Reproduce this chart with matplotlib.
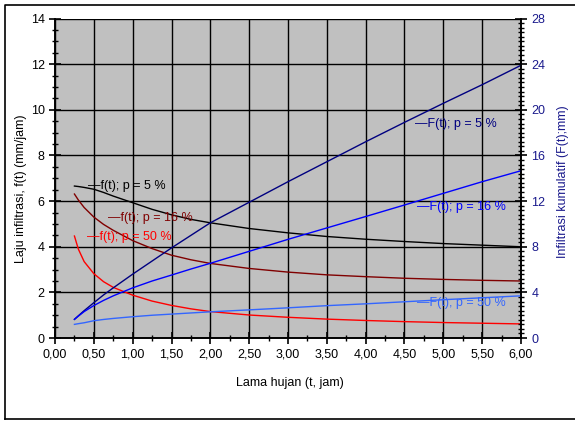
import matplotlib.pyplot as plt
from matplotlib.ticker import MultipleLocator, FuncFormatter
from matplotlib.lines import Line2D

plt.rcParams['font.family'] = ['Liberation Sans', 'DejaVu Sans']

# lama hujan (jam)
t = [0.25, 0.3, 0.375, 0.5, 0.625, 0.75, 1.0, 1.25, 1.5, 1.75, 2.0, 2.5, 3.0, 3.5, 4.0, 4.5, 5.0, 5.5, 6.0]

# laju infiltrasi f(t) (mm/jam)
f_p5 = [6.66, 6.64, 6.6, 6.52, 6.38, 6.22, 5.93, 5.64, 5.4, 5.2, 5.05, 4.8, 4.61, 4.45, 4.33, 4.23, 4.14, 4.07, 4.0]
f_p16 = [6.31, 6.05, 5.72, 5.3, 4.98, 4.72, 4.27, 3.92, 3.63, 3.43, 3.27, 3.05, 2.89, 2.77, 2.69, 2.62, 2.57, 2.53, 2.5]
f_p50 = [4.47, 3.9, 3.35, 2.82, 2.47, 2.22, 1.88, 1.62, 1.43, 1.28, 1.16, 1.01, 0.91, 0.83, 0.77, 0.72, 0.68, 0.65, 0.62]

# infiltrasi kumulatif F(t) (mm)
F_p5 = [1.64, 1.95, 2.4, 3.1, 3.78, 4.4, 5.6, 6.75, 7.9, 9.0, 10.1, 11.9, 13.7, 15.45, 17.2, 18.9, 20.57, 22.2, 23.9]
F_p16 = [1.64, 1.92, 2.32, 2.85, 3.3, 3.7, 4.4, 5.0, 5.52, 6.05, 6.55, 7.6, 8.65, 9.65, 10.65, 11.66, 12.68, 13.7, 14.66]
F_p50 = [1.2, 1.26, 1.34, 1.52, 1.63, 1.72, 1.87, 2.0, 2.1, 2.2, 2.3, 2.47, 2.65, 2.84, 3.0, 3.18, 3.36, 3.53, 3.7]

navy = '#1a1a8c'

fig = plt.figure(figsize=(5.75, 4.21), dpi=100)
ax = fig.add_axes([0.0957, 0.197, 0.8103, 0.759])
ax.set_facecolor('#c0c0c0')
ax2 = ax.twinx()

ax.plot(t, f_p5, color='black', lw=1)
ax.plot(t, f_p16, color='#800000', lw=1)
ax.plot(t, f_p50, color='#ff0000', lw=1)
ax2.plot(t, F_p5, color='#000080', lw=1)
ax2.plot(t, F_p16, color='#0000ff', lw=1)
ax2.plot(t, F_p50, color='#3366ff', lw=1)

ax.set_xlim(0, 6)
ax.set_ylim(0, 14)
ax2.set_ylim(0, 28)
ax.xaxis.set_major_locator(MultipleLocator(0.5))
ax.xaxis.set_minor_locator(MultipleLocator(0.25))
ax.yaxis.set_major_locator(MultipleLocator(2))
ax.yaxis.set_minor_locator(MultipleLocator(0.5))
ax2.yaxis.set_major_locator(MultipleLocator(4))
ax2.yaxis.set_minor_locator(MultipleLocator(0.4))
ax.xaxis.set_major_formatter(FuncFormatter(lambda v, p: f"{v:.2f}".replace('.', ',')))

ax.grid(True, which='major', color='black', lw=1)
ax.set_axisbelow(True)

ax.tick_params(which='major', direction='inout', length=8, width=1.2, labelsize=9)
ax.tick_params(which='minor', direction='inout', length=4, width=1)
ax2.tick_params(which='major', direction='inout', length=8, width=1.2, labelsize=9, labelcolor=navy)
ax2.tick_params(which='minor', direction='inout', length=4, width=1)
for a in (ax, ax2):
    a.spines['top'].set_visible(False)
    for s in ('left', 'right', 'bottom'):
        a.spines[s].set_linewidth(1.2)

ax.set_xlabel('Lama hujan (t, jam)', fontsize=9)
ax.set_ylabel('Laju infiltrasi, f(t) (mm/jam)', fontsize=9)
ax2.set_ylabel('Infiltrasi kumulatif (F(t);mm)', fontsize=9, color=navy)
ax.xaxis.set_label_coords(0.504, -0.122)
ax.yaxis.set_label_coords(-0.060, 0.466)
ax2.yaxis.set_label_coords(1.077, 0.488)

labels = [
    ('—f(t); p = 5 %', 0.43, 6.66, 'black', ax),
    ('—f(t); p = 16 %', 0.676, 5.26, '#800000', ax),
    ('—f(t); p = 50 %', 0.418, 4.43, '#ff0000', ax),
    ('—F(t); p = 5 %', 4.63, 18.76, '#000080', ax2),
    ('—F(t); p = 16 %', 4.655, 11.5, '#0000ff', ax2),
    ('—F(t); p = 50 %', 4.655, 3.07, '#3366ff', ax2),
]
for txt, x, y, c, a in labels:
    a.text(x, y, txt, color=c, fontsize=9, va='center', ha='left')

# bingkai luar
fig.add_artist(Line2D([5/575, 5/575, 1], [1-419/421, 1-5/421, 1-5/421], color='black', lw=1.2, transform=fig.transFigure))
fig.add_artist(Line2D([5/575, 1], [1-419/421, 1-419/421], color='black', lw=1.2, transform=fig.transFigure))

fig.savefig('out.png', dpi=100)
